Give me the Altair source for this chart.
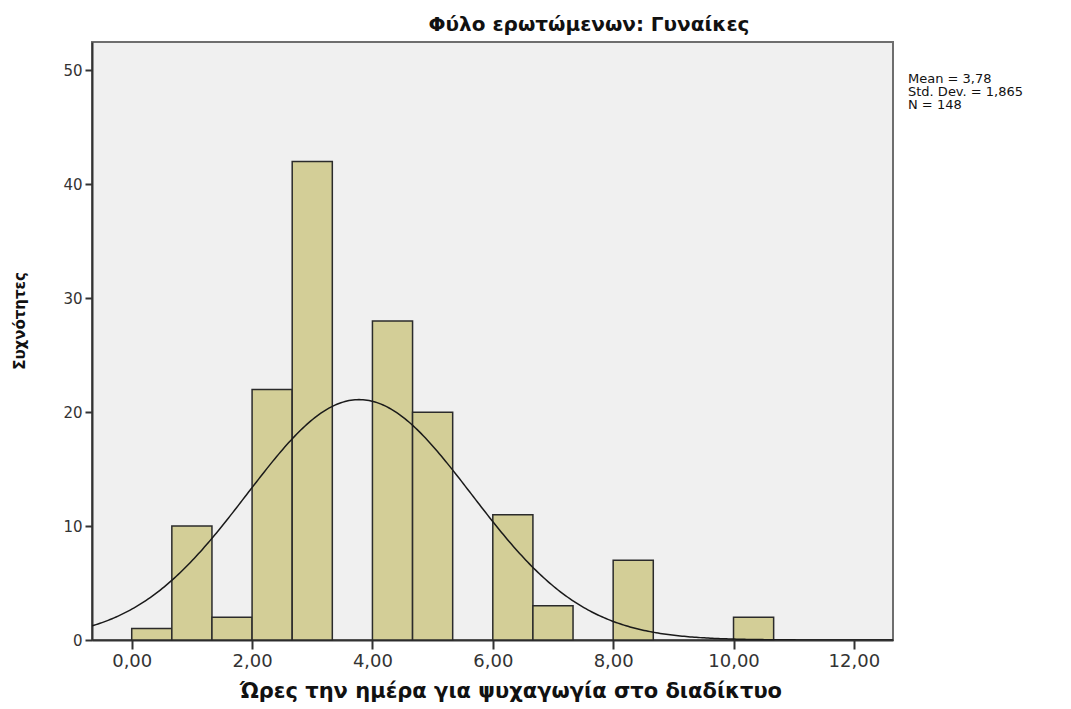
import altair as alt
import numpy as np
import pandas as pd

# ---- data ----
bin_width = 2.0 / 3.0
bin_counts = [1, 10, 2, 22, 42, 0, 28, 20, 0, 11, 3, 0, 7, 0, 0, 2]
mean_val = 3.78
sd_val = 1.865
n_val = 148
stats_lines = ["Mean = 3,78", "Std. Dev. = 1,865", "N = 148"]
x_ticks = [0, 2, 4, 6, 8, 10, 12]
y_ticks = [0, 10, 20, 30, 40, 50]
title_text = "Φύλο ερωτώμενων: Γυναίκες"
x_title = "Ώρες την ημέρα για ψυχαγωγία στο διαδίκτυο"
y_title = "Συχνότητες"

x_domain = [-0.66, 12.65]
y_domain = [0, 52.5]

bars = pd.DataFrame({
    "start": [i * bin_width for i in range(len(bin_counts))],
    "end": [(i + 1) * bin_width for i in range(len(bin_counts))],
    "count": bin_counts,
})
bars = bars[bars["count"] > 0]

xs = np.linspace(x_domain[0], x_domain[1], 400)
curve = pd.DataFrame({
    "x": xs,
    "y": n_val * bin_width / (sd_val * np.sqrt(2 * np.pi)) * np.exp(-0.5 * ((xs - mean_val) / sd_val) ** 2),
})

W, H = 801, 598
FONT = "DejaVu Sans"

xscale = alt.Scale(domain=x_domain, nice=False, zero=False)
yscale = alt.Scale(domain=y_domain, nice=False, zero=False)

xaxis = alt.Axis(values=x_ticks, title=None, grid=False,
                 labelExpr="replace(format(datum.value, '.2f'), '.', ',')",
                 tickSize=9, labelPadding=3, labelFontSize=18, labelFont=FONT,
                 labelColor="#333333", domainColor="#333333", domainWidth=2,
                 tickColor="#333333", tickWidth=2)
yaxis = alt.Axis(values=y_ticks, title=None, grid=False,
                 tickSize=7, labelPadding=3, labelFontSize=15, labelFont=FONT,
                 labelColor="#333333", domainColor="#333333", domainWidth=2,
                 tickColor="#333333", tickWidth=2)

rects = alt.Chart(bars).mark_rect(
    fill="#D3CE97", stroke="#2b2b2b", strokeWidth=1.5
).encode(
    x=alt.X("start:Q", scale=xscale, axis=xaxis),
    x2="end:Q",
    y=alt.Y("count:Q", scale=yscale, axis=yaxis),
    y2=alt.datum(0),
)

line = alt.Chart(curve).mark_line(color="#1a1a1a", strokeWidth=1.5, clip=True).encode(
    x=alt.X("x:Q", scale=xscale),
    y=alt.Y("y:Q", scale=yscale),
)

one = pd.DataFrame({"a": [0]})

title = alt.Chart(one).mark_text(
    text=title_text, font=FONT, fontSize=20, fontWeight="bold",
    color="#111111", align="center", baseline="alphabetic"
).encode(x=alt.value(497), y=alt.value(-11))

xt = alt.Chart(one).mark_text(
    text=x_title, font=FONT, fontSize=21, fontWeight="bold",
    color="#111111", align="center", baseline="middle"
).encode(x=alt.value(419), y=alt.value(650))

yt = alt.Chart(one).mark_text(
    text=y_title, font=FONT, fontSize=15, fontWeight="bold",
    color="#111111", align="center", baseline="middle", angle=270
).encode(x=alt.value(-72), y=alt.value(279))

stats_df = pd.DataFrame({"t": stats_lines, "yy": [41, 54, 67]})
stats = alt.Chart(stats_df).mark_text(
    font=FONT, fontSize=13, color="#111111", align="left", baseline="alphabetic"
).encode(x=alt.value(816), y=alt.Y("yy:Q", scale=None), text="t:N")

chart = alt.layer(rects, line, title, xt, yt, stats).properties(
    width=W, height=H,
    background="white",
    autosize=alt.AutoSizeParams(type="none"),
    padding={"left": 84, "top": 34, "right": 170, "bottom": 70},
).configure_view(
    fill="#F0F0F0", stroke="#6e6e6e", strokeWidth=2
)

chart.save("out.html", embed_options={"renderer": "svg", "actions": False})
